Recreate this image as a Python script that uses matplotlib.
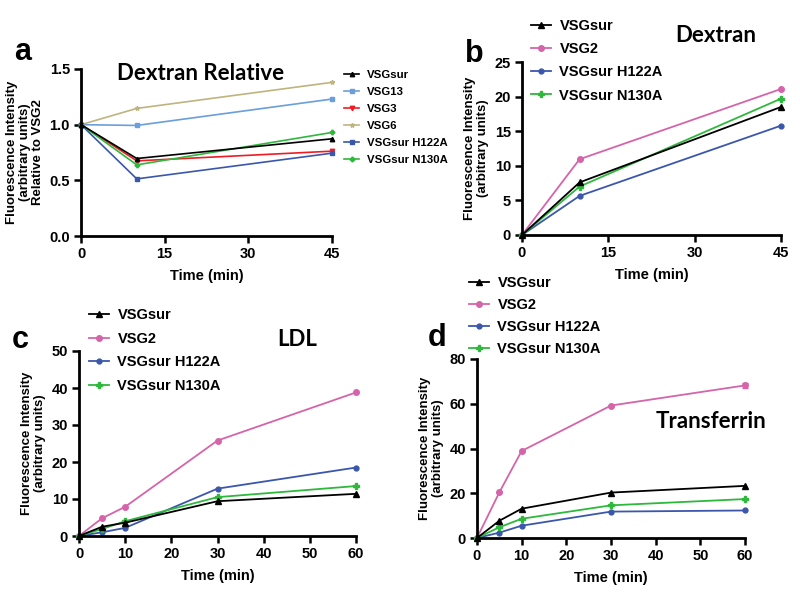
import matplotlib
matplotlib.use("Agg")
import matplotlib.pyplot as plt
import numpy as np

plt.rcParams['font.family'] = ['Liberation Sans', 'DejaVu Sans']
plt.rcParams['font.weight'] = 'bold'

# ---------------- data ----------------
t_a = [0, 10, 45]
a_names = ["VSGsur", "VSG13", "VSG3", "VSG6", "VSGsur H122A", "VSGsur N130A"]
a_vsgsur = [1.0, 0.696, 0.873]
a_vsg13 = [1.0, 0.993, 1.23]
a_vsg3 = [1.0, 0.675, 0.762]
a_vsg6 = [1.0, 1.146, 1.38]
a_h122a = [1.0, 0.513, 0.744]
a_n130a = [1.0, 0.639, 0.93]

t_b = [0, 10, 45]
b_names = ["VSGsur", "VSG2", "VSGsur H122A", "VSGsur N130A"]
b_vsgsur = [0, 7.6, 18.5]
b_vsg2 = [0, 10.95, 21.1]
b_h122a = [0, 5.65, 15.8]
b_n130a = [0, 7.0, 19.7]

t_c = [0, 5, 10, 30, 60]
c_vsgsur = [0, 2.5, 3.6, 9.4, 11.4]
c_vsg2 = [0, 4.8, 7.9, 25.8, 38.8]
c_h122a = [0, 1.0, 2.2, 12.8, 18.5]
c_n130a = [0, 1.9, 4.0, 10.5, 13.5]

t_d = [0, 5, 10, 30, 60]
d_vsgsur = [0, 7.7, 13.1, 20.3, 23.3]
d_vsg2 = [0, 20.4, 38.9, 59.2, 68.2]
d_vsg2_err = [0, 0, 0, 0, 1.2]
d_h122a = [0, 2.4, 5.5, 11.8, 12.3]
d_n130a = [0, 4.8, 8.6, 14.6, 17.4]

# ---------------- styles ----------------
BLACK = "#000000"
PINK = "#D564AA"
BLUE = "#3B57AC"
GREEN = "#2EB83C"
LBLUE = "#6A9EDC"
RED = "#EE1C25"
TAN = "#BFB47E"
TITLE_FONT = ['Lato', 'DejaVu Sans']

fig = plt.figure(figsize=(8, 6), dpi=100)

def style_ax(ax, xlim, xticks, ylim, yticks, yfmt, ylabel, ylfs=9.5):
    ax.set_xlim(*xlim)
    ax.set_ylim(*ylim)
    ax.set_xticks(xticks)
    ax.set_yticks(yticks)
    ax.set_yticklabels([yfmt.format(v) for v in yticks])
    for s in ['top', 'right']:
        ax.spines[s].set_visible(False)
    for s in ['left', 'bottom']:
        ax.spines[s].set_linewidth(2.0)
    ax.tick_params(direction='out', length=5, width=1.8, labelsize=10.5, pad=3)
    for lab in ax.get_xticklabels() + ax.get_yticklabels():
        lab.set_fontweight('bold')
    ax.set_xlabel("Time (min)", fontsize=10.5, fontweight='bold', labelpad=6)
    ax.set_ylabel(ylabel, fontsize=ylfs, fontweight='bold', linespacing=1.1)
    for l in ax.get_lines():
        l.set_clip_on(False)

def add_legend(ax, handles, x, y, size, ls, hl, htp):
    ax.legend(handles=handles, loc='upper left', bbox_to_anchor=(x/800, 1-y/600),
              bbox_transform=fig.transFigure,
              frameon=False, prop={'size': size, 'weight': 'bold'}, handlelength=hl,
              labelspacing=ls, handletextpad=htp, borderaxespad=0, borderpad=0)

def four_series(ax, t, v1, v2, v3, v4, err2=None):
    ms = 4
    h1, = ax.plot(t, v1, color=BLACK, marker='^', ms=ms, lw=1.3, label=b_names[0], zorder=6)
    h2, = ax.plot(t, v2, color=PINK, marker='o', ms=ms, lw=1.3, label=b_names[1])
    if err2 is not None:
        ax.errorbar(t, v2, yerr=err2, fmt='none', ecolor=PINK, capsize=2, elinewidth=1.0)
    h3, = ax.plot(t, v3, color=BLUE, marker='o', ms=3.5, lw=1.3, label=b_names[2])
    h4, = ax.plot(t, v4, color=GREEN, marker='P', ms=ms, lw=1.3, label=b_names[3])
    return [h1, h2, h3, h4]

# ---------------- panel a ----------------
axa = fig.add_axes([81/800, 1-236/600, 251/800, 167/600])
ms_a = 3.2
ha = []
ha += axa.plot(t_a, a_vsgsur, color=BLACK, marker='^', ms=ms_a, lw=1.2, label=a_names[0], zorder=6)
ha += axa.plot(t_a, a_vsg13, color=LBLUE, marker='s', ms=ms_a, lw=1.2, label=a_names[1])
ha += axa.plot(t_a, a_vsg3, color=RED, marker='v', ms=ms_a, lw=1.2, label=a_names[2])
ha += axa.plot(t_a, a_vsg6, color=TAN, marker='*', ms=ms_a, lw=1.2, label=a_names[3])
ha += axa.plot(t_a, a_h122a, color=BLUE, marker='s', ms=2.8, lw=1.2, label=a_names[4])
ha += axa.plot(t_a, a_n130a, color=GREEN, marker='P', ms=ms_a, lw=1.2, label=a_names[5])
style_ax(axa, (0, 45), [0, 15, 30, 45], (0, 1.5), [0.0, 0.5, 1.0, 1.5], "{:.1f}",
         "Fluorescence Intensity\n(arbitrary units)\nRelative to VSG2", ylfs=9.5)
add_legend(axa, ha, 344, 70, 8.2, 0.62, 1.35, 0.7)
fig.text(201/800, 1-73/600, "Dextran Relative", fontsize=16, fontweight='bold',
         family=TITLE_FONT, ha='center', va='center')
fig.text(14/800, 1-52/600, "a", fontsize=22, fontweight='bold', ha='left', va='center')

# ---------------- panel b ----------------
axb = fig.add_axes([522/800, 1-235/600, 259/800, 173/600])
hb = four_series(axb, t_b, b_vsgsur, b_vsg2, b_h122a, b_n130a)
style_ax(axb, (0, 45), [0, 15, 30, 45], (0, 25), [0, 5, 10, 15, 20, 25], "{:d}",
         "Fluorescence Intensity\n(arbitrary units)")
add_legend(axb, hb, 531, 19, 10.5, 0.63, 1.4, 0.55)
fig.text(716/800, 1-35/600, "Dextran", fontsize=16, fontweight='bold',
         family=TITLE_FONT, ha='center', va='center')
fig.text(465/800, 1-54/600, "b", fontsize=22, fontweight='bold', ha='left', va='center')

# ---------------- panel c ----------------
axc = fig.add_axes([79/800, 1-536/600, 277/800, 185/600])
hc = four_series(axc, t_c, c_vsgsur, c_vsg2, c_h122a, c_n130a)
style_ax(axc, (0, 60), [0, 10, 20, 30, 40, 50, 60], (0, 50), [0, 10, 20, 30, 40, 50], "{:d}",
         "Fluorescence Intensity\n(arbitrary units)")
add_legend(axc, hc, 89, 308, 10.5, 0.66, 1.4, 0.55)
fig.text(297/800, 1-340/600, "LDL", fontsize=16, fontweight='bold',
         family=TITLE_FONT, ha='center', va='center')
fig.text(12/800, 1-340/600, "c", fontsize=22, fontweight='bold', ha='left', va='center')

# ---------------- panel d ----------------
axd = fig.add_axes([477/800, 1-538/600, 268/800, 179/600])
hd = four_series(axd, t_d, d_vsgsur, d_vsg2, d_h122a, d_n130a, err2=d_vsg2_err)
style_ax(axd, (0, 60), [0, 10, 20, 30, 40, 50, 60], (0, 80), [0, 20, 40, 60, 80], "{:d}",
         "Fluorescence Intensity\n(arbitrary units)")
add_legend(axd, hd, 469, 276, 10.5, 0.55, 1.4, 0.55)
fig.text(711/800, 1-421/600, "Transferrin", fontsize=16, fontweight='bold',
         family=TITLE_FONT, ha='center', va='center')
fig.text(428/800, 1-338/600, "d", fontsize=22, fontweight='bold', ha='left', va='center')

fig.savefig("out.png", dpi=100)
